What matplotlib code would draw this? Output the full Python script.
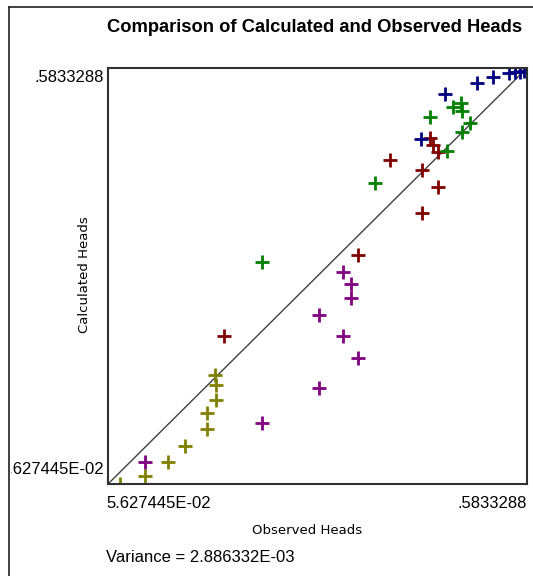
import matplotlib
matplotlib.use('Agg')
import matplotlib.pyplot as plt
from matplotlib.lines import Line2D
from matplotlib.transforms import Bbox

plt.rcParams['font.family'] = ['Liberation Sans', 'DejaVu Sans']

# axis range (min / max head)
head_min = 0.05627445
head_max = 0.5833288
variance = 2.886332e-03

# observed / calculated heads, one group per colour
blue_obs = [0.4500, 0.4802, 0.5204, 0.5406, 0.5607, 0.5682, 0.5745, 0.5796]
blue_calc = [0.4934, 0.5504, 0.5643, 0.5719, 0.5770, 0.5783, 0.5783, 0.5795]
green_obs = [0.2500, 0.3921, 0.4613, 0.4902, 0.5003, 0.5016, 0.5116, 0.5016, 0.4827]
green_calc = [0.3375, 0.4376, 0.5213, 0.5339, 0.5390, 0.5289, 0.5137, 0.5023, 0.4782]
red_obs = [0.2022, 0.3707, 0.4110, 0.4513, 0.4513, 0.4714, 0.4613, 0.4651, 0.4714]
red_calc = [0.2438, 0.3464, 0.4668, 0.3996, 0.4541, 0.4326, 0.4947, 0.4858, 0.4769]
purple_obs = [0.1028, 0.2500, 0.3217, 0.3217, 0.3519, 0.3707, 0.3519, 0.3619, 0.3619]
purple_calc = [0.0841, 0.1336, 0.1779, 0.2704, 0.2438, 0.2159, 0.3249, 0.3097, 0.2919]
olive_obs = [0.0714, 0.1028, 0.1317, 0.1531, 0.1808, 0.1808, 0.1921, 0.1921, 0.1909]
olive_calc = [0.0563, 0.0664, 0.0841, 0.1044, 0.1260, 0.1462, 0.1627, 0.1817, 0.1944]

groups = [
    (olive_obs, olive_calc, '#808000'),
    (purple_obs, purple_calc, '#800080'),
    (red_obs, red_calc, '#800000'),
    (green_obs, green_calc, '#008000'),
    (blue_obs, blue_calc, '#000080'),
]

W, H = 533, 576
fig = plt.figure(figsize=(W / 100, H / 100), dpi=100)
ax = fig.add_axes([108 / W, 1 - 484 / H, 419 / W, 416 / H])

# 1:1 line
ax.plot([head_min, head_max], [head_min, head_max], color='#404040', lw=1.0)

for obs, calc, col in groups:
    ax.plot(obs, calc, linestyle='none', marker='+', ms=9.5, mew=2.0, color=col)

ax.set_xlim(head_min, head_max)
ax.set_ylim(head_min, head_max)
ax.set_xticks([])
ax.set_yticks([])
for s in ax.spines.values():
    s.set_linewidth(1.5)
    s.set_color('#303030')

# window frame on left / top
fig.add_artist(Line2D([9 / W, 9 / W], [0, 1 - 7 / H], color='#202020', lw=1.2))
fig.add_artist(Line2D([9 / W, 1], [1 - 7 / H, 1 - 7 / H], color='#202020', lw=1.2))

fig.text(315 / W, 1 - 27 / H, 'Comparison of Calculated and Observed Heads',
         ha='center', va='center', fontsize=13.2, fontweight='bold')

lab = dict(fontsize=12)
fig.text(104 / W, 1 - 77 / H, '.5833288', ha='right', va='center', **lab)
t = fig.text(104 / W, 1 - 470 / H, '%.6fE-02' % (head_min * 100), ha='right', va='center', **lab)
t.set_clip_box(Bbox.from_extents(11, 0, W, H))
t.set_clip_on(True)
fig.text(106 / W, 1 - 504 / H, '%.6fE-02' % (head_min * 100), ha='left', va='center', **lab)
fig.text(527 / W, 1 - 504 / H, '.5833288', ha='right', va='center', **lab)

fig.text(307 / W, 1 - 530 / H, 'Observed Heads', ha='center', va='center',
         fontsize=9.5, family='DejaVu Sans')
fig.text(85 / W, 1 - 275 / H, 'Calculated Heads', ha='center', va='center',
         rotation=90, fontsize=9.5, family='DejaVu Sans')
fig.text(106 / W, 1 - 558 / H, 'Variance = %.6fE-03' % (variance * 1000),
         ha='left', va='center', fontsize=12)

fig.savefig('out.png', dpi=100)
